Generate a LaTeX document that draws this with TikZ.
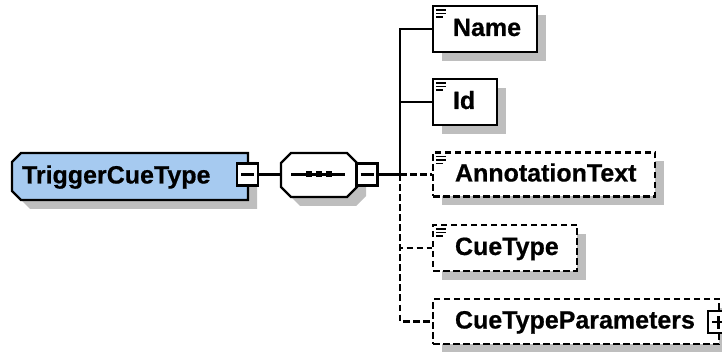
\documentclass[tikz,border=0pt]{standalone}
\usepackage{fontspec}
\setmainfont{Liberation Sans}[BoldFeatures={FakeBold=0.6}]
\usetikzlibrary{shadows}
\definecolor{elemblue}{RGB}{166,202,240}
\definecolor{shadowgray}{RGB}{190,190,190}
\tikzset{
  lw/.style={line width=2.2pt},
  optdash/.style={dash pattern=on 6.5pt off 3.5pt},
  shd/.style={general shadow={fill=shadowgray, shadow xshift=9pt, shadow yshift=-9pt}},
  txt/.style={font=\fontsize{25}{28}\selectfont\bfseries, text height=20pt, text depth=6pt},
  elem/.style={draw, lw, fill=white, shd, rectangle, inner sep=0pt, txt},
  optelem/.style={elem, optdash},
  toggle/.style={draw, lw, fill=white, rectangle, inner sep=0pt, minimum width=21pt, minimum height=22pt},
  conn/.style={lw},
  optconn/.style={lw, optdash},
  icon/.style={line width=1.5pt},
  dotsq/.style={fill=black, rectangle, inner sep=0pt, minimum size=6pt},
  shapefill/.style={draw, lw, line join=miter},
}
\newcommand{\docicon}[1]{%
  \draw[icon] ([xshift=4pt,yshift=-5pt]#1.north west) -- ++(10pt,0pt);
  \draw[icon] ([xshift=4pt,yshift=-8.5pt]#1.north west) -- ++(10pt,0pt);
  \draw[icon] ([xshift=4pt,yshift=-12pt]#1.north west) -- ++(7pt,0pt);
}
\begin{document}
\begin{tikzpicture}[x=1pt,y=-1pt]
\useasboundingbox (0,0) rectangle (722,352);
% root element outline (left corners chamfered) with its shadow
\fill[shadowgray] (30,162) -- (257,162) -- (257,209) -- (30,209) -- (21,200) -- (21,171) -- cycle;
\path[shapefill, fill=elemblue] (21,153) -- (248,153) -- (248,200) -- (21,200) -- (12,191) -- (12,162) -- cycle;
\node[inner sep=0pt, minimum width=236pt, minimum height=47pt, txt] (main) at (130,176.5)
      {\makebox[216pt][l]{TriggerCueType}};
\node[toggle] (mtog) at (247.5,174.5) {};
\draw[lw] ([xshift=-6.5pt]mtog.center) -- ([xshift=6.5pt]mtog.center);
% sequence compositor (octagon) with its shadow
\fill[shadowgray] (300,162) -- (356,162) -- (366,172) -- (366,196) -- (356,206) -- (300,206) -- (290,196) -- (290,172) -- cycle;
\path[shapefill, fill=white] (291,153) -- (347,153) -- (357,163) -- (357,187) -- (347,197) -- (291,197) -- (281,187) -- (281,163) -- cycle;
\node[inner sep=0pt, minimum width=76pt, minimum height=44pt] (comp) at (319,174.5) {};
\draw[lw] ([xshift=-28pt]comp.center) -- ([xshift=26pt]comp.center);
\node[dotsq] (d1) at (309,174.5) {};
\node[dotsq] (d2) at (319,174.5) {};
\node[dotsq] (d3) at (329,174.5) {};
\node[toggle] (ctog) at (367,174.5) {};
\draw[lw] ([xshift=-6.5pt]ctog.center) -- ([xshift=6.5pt]ctog.center);
% children
\node[elem, minimum width=104pt, minimum height=46pt] (name) at (485,29) {\makebox[64pt][l]{Name}};
\node[elem, minimum width=64pt, minimum height=46pt] (id) at (465,102) {\makebox[24pt][l]{Id}};
\node[optelem, minimum width=222pt, minimum height=44pt] (ann) at (544,174.5) {\makebox[178pt][l]{AnnotationText}};
\node[optelem, minimum width=144pt, minimum height=46pt] (cue) at (505,248) {\makebox[100pt][l]{CueType}};
\node[optelem, minimum width=286pt, minimum height=45pt] (ctp) at (576,321.5) {\makebox[242pt][l]{CueTypeParameters}};
\node[toggle] (ptog) at (718.5,322) {};
\draw[lw] ([xshift=-6.5pt]ptog.center) -- ([xshift=6.5pt]ptog.center);
\draw[lw] ([yshift=-6.5pt]ptog.center) -- ([yshift=6.5pt]ptog.center);
\docicon{name}
\docicon{id}
\docicon{ann}
\docicon{cue}
% connectors
\coordinate (j) at (400,174.5);
\draw[conn] (mtog.east) -- (mtog.east -| comp.west);
\draw[conn] (ctog.east) -- (j);
\draw[conn] (j) |- (name.west);
\draw[conn] (j) |- (id.west);
\draw[optconn] (j) |- (ann.west);
\draw[optconn] (j) |- (cue.west);
\draw[optconn] (j) |- (ctp.west);
\end{tikzpicture}
\end{document}
